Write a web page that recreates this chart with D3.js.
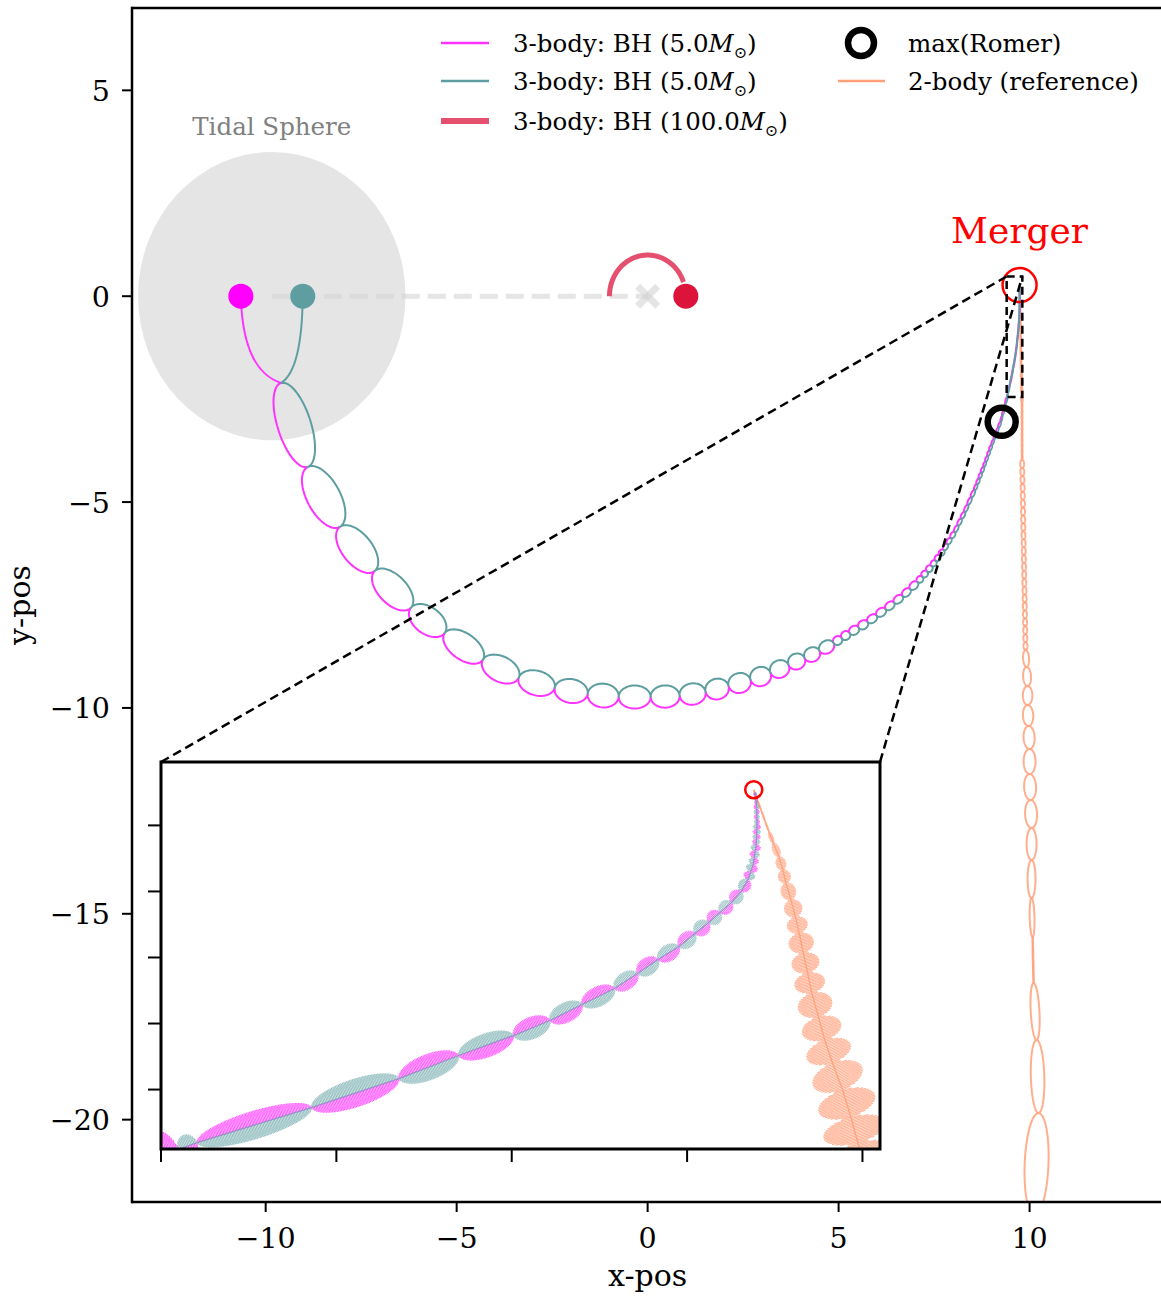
<!DOCTYPE html>
<html><head><meta charset="utf-8">
<script src="https://cdn.jsdelivr.net/npm/d3@7"></script>
<style>
body{margin:0;background:#fff}
svg{display:block}
text{font-family:"DejaVu Serif",serif}
</style>
</head><body>
<svg id="chart" width="1161" height="1296"></svg>
<script>
// ---------- axis ticks ----------
const xTicks = [-10, -5, 0, 5, 10];
const yTicks = [5, 0, -5, -10, -15, -20];
const insetXTicks = [9.4, 9.5, 9.6, 9.7, 9.8];
const insetYTicks = [0, -0.5, -1, -1.5, -2];
const zoomX = [9.40, 9.81];
const zoomY = [-2.45, 0.48];

// ---------- bodies and markers ----------
const bhA0 = [-10.65, 0];          // 5 Msun, magenta, start
const bhB0 = [-9.03, 0];           // 5 Msun, teal, start
const bhABend = [-10.6, -1.8];     // control points of the first infall
const bhBBend = [-9.05, -1.8];
const bhC0 = [1.0, 0];             // 100 Msun perturber
const bhCArcDeg = [180, 20];       // swept angle of the perturber, radius 1
const bhCArcR = 1.0;
const systemCOM = [0, 0];
const tidalCenter = [-9.84, 0];
const tidalRadius = 3.5;
const mergerPos = [9.738, 0.27];
const romerMaxPos = [9.27, -3.05];

// ---------- 3-body binary: guiding centre nodes, loops per segment, half-separation ----------
const binaryPath = [
  [-9.602,-2.108],[-8.901,-4.149],[-8.063,-5.606],[-7.147,-6.675],[-6.204,-7.574],
  [-5.314,-8.181],[-4.319,-8.837],[-3.377,-9.274],[-2.435,-9.517],[-1.571,-9.662],
  [-0.759,-9.735],[0.079,-9.735],[0.838,-9.711],[1.518,-9.614],[2.120,-9.468],
  [2.696,-9.322],[3.220,-9.152],[3.691,-8.958],[4.110,-8.788],[4.503,-8.618],
  [4.869,-8.424],
  [5.288,-8.181],[5.759,-7.914],[6.230,-7.598],[6.675,-7.282],[7.068,-6.942],
  [7.435,-6.553],[7.749,-6.165],[8.037,-5.728],[8.298,-5.242],[8.560,-4.708],
  [8.796,-4.149],[9.005,-3.614],[9.241,-3.056],
  [9.4097,-2.455],[9.4205,-2.402],[9.4858,-2.136],[9.5357,-1.917],[9.5697,-1.742],
  [9.6010,-1.591],[9.6218,-1.477],[9.6401,-1.356],[9.6586,-1.235],[9.6717,-1.121],
  [9.6834,-1.015],[9.6954,-0.917],[9.7045,-0.818],[9.7123,-0.735],[9.7188,-0.659],
  [9.7254,-0.583],[9.7308,-0.500],[9.7348,-0.409],[9.7377,-0.295],[9.7394,-0.144],
  [9.7399,0.008],[9.7396,0.159],[9.7387,0.250]
];
const binaryLoops = [
  1,1,1,1,1,1,1,1,1,1,1,1,1,1,1,1,1,1,1,1,
  2,2,2,2,2,3,3,3,3,3,4,4,4,
  4,
  1,1,1,1,1,1,1,1,1,1,1,1,1,1,1,1,1,2,3,4,4,3
];
const binarySep = [
  0.42,0.42,0.38,0.36,0.34,0.33,0.32,0.31,0.30,0.30,0.29,0.28,0.27,0.26,0.25,0.24,0.22,0.20,0.18,0.16,
  -0.11,-0.11,-0.10,-0.095,-0.09,-0.08,-0.07,-0.055,-0.045,-0.04,-0.035,-0.03,-0.025,
  -0.018,
  0.0068,-0.0080,0.0080,-0.0074,0.0068,-0.0063,0.0057,-0.0057,0.0051,-0.0051,0.0048,
  -0.0046,0.0046,-0.0043,0.0040,-0.0040,0.0037,-0.0034,0.0029,-0.0023,0.0017,-0.0011
];
const binaryAlternate = [
  0,0,0,0,0,0,0,0,0,0,0,0,0,0,0,0,0,0,0,0,
  0,0,0,0,0,0,0,0,0,0,0,0,0,
  0,
  0,0,0,0,0,0,0,0,0,0,0,0,0,0,0,0,0,1,1,1,1,1
];

// ---------- 2-body reference ----------
const refPath = [
  [9.738,0.27],
  [9.7467,-0.050],[9.7492,-0.133],[9.7524,-0.239],[9.7546,-0.337],[9.7563,-0.436],
  [9.7592,-0.564],[9.7618,-0.693],[9.7639,-0.815],[9.7663,-0.966],[9.7687,-1.117],
  [9.7711,-1.269],[9.7749,-1.450],[9.7785,-1.625],[9.7829,-1.799],[9.7887,-2.003],
  [9.7934,-2.208],[9.7974,-2.405],[9.8019,-2.609],
  [9.804,-3.978],[9.895,-8.593],
  [9.921,-9.006],[9.948,-9.468],[9.948,-9.929],[9.974,-10.439],[10.0,-10.998],
  [10.0,-11.605],[10.026,-12.237],[10.052,-12.917],[10.052,-13.694],[10.052,-14.617],
  [10.079,-15.564],[10.105,-16.682],[10.183,-18.066],[10.236,-19.839],[10.13,-22.32]
];
const refLoops = [
  4,
  1,1,1,1,1,1,1,1,1,1,1,1,1,1,1,1,1,
  10,24,
  1,1,1,1,1,1,1,1,1,1,1,1,1,1,1
];
const refSep = [
  0.0006,
  0.0014,0.0022,0.0030,0.0037,0.0044,0.0052,0.0060,0.0072,0.0080,0.0088,0.0100,0.0115,0.0132,0.0150,0.0168,0.0182,0.0195,
  0.012,0.05,
  0.075,0.10,0.12,0.13,0.14,0.15,0.15,0.15,0.125,0.10,0.06,0.008,0.11,0.17,0.30
];

// ---------- colours ----------
const cBH1 = "#ff33ff", cBH2 = "#5f9ea0", cBH3 = "#e5506f", cBH3dot = "#dc143c";
const cRef = "#ffa07a";

// ---------- layout ----------
const svg = d3.select("#chart");
const W = 1161, H = 1296;
const plot = {left: 132, top: 8, right: 1190, bottom: 1202};
const x = d3.scaleLinear().domain([-13.5, 14.2]).range([plot.left, plot.right]);
const y = d3.scaleLinear().domain([-22, 7]).range([plot.bottom, plot.top]);
const ins = {left: 161, top: 762, right: 880, bottom: 1149};
const ix = d3.scaleLinear().domain(zoomX).range([ins.left, ins.right]);
const iy = d3.scaleLinear().domain(zoomY).range([ins.bottom, ins.top]);
const kMain = (Math.abs(x(1) - x(0)) + Math.abs(y(1) - y(0))) / 2;
const kInset = Math.abs(ix(1) - ix(0));

const defs = svg.append("defs");
defs.append("clipPath").attr("id", "clipMain").append("rect")
  .attr("x", plot.left).attr("y", plot.top)
  .attr("width", plot.right - plot.left).attr("height", plot.bottom - plot.top);
defs.append("clipPath").attr("id", "clipInset").append("rect")
  .attr("x", ins.left).attr("y", ins.top)
  .attr("width", ins.right - ins.left).attr("height", ins.bottom - ins.top);

// Build the two tracks of a binary whose guiding centre follows `pts` (pixels).
// Each loop is an ellipse between consecutive nodes: one body runs one half,
// the companion the other. With hatch>0 the fast inner orbit is drawn as a
// dense zig-zag inside each half.
function binaryTracks(pts, loops, sepPx, alt, hatch) {
  const a = [], b = [];
  for (let i = 0; i < pts.length - 1; i++) {
    const P = pts[i], Q = pts[i + 1], c = loops[i];
    for (let j = 0; j < c; j++) {
      const A = [P[0] + (Q[0] - P[0]) * j / c, P[1] + (Q[1] - P[1]) * j / c];
      const B = [P[0] + (Q[0] - P[0]) * (j + 1) / c, P[1] + (Q[1] - P[1]) * (j + 1) / c];
      const dx = B[0] - A[0], dy = B[1] - A[1], L = Math.hypot(dx, dy) || 1e-9;
      const ux = dx / L, uy = dy / L, nx = -uy, ny = ux;
      const h = sepPx[i] * ((alt[i] && j % 2) ? -1 : 1);
      const zig = hatch ? Math.max(3, Math.round(L / hatch)) : 0;
      const N = zig ? zig * 6 : 28;
      for (let k = (a.length ? 1 : 0); k <= N; k++) {
        const t = k / N;
        let along, off;
        if (zig) {
          along = L * t;
          off = h * Math.sqrt(Math.max(0, 1 - (2 * t - 1) ** 2)) * Math.abs(Math.sin(Math.PI * zig * t));
        } else {
          const th = Math.PI * t;
          along = L * (1 - Math.cos(th)) / 2;
          off = h * Math.sin(th);
        }
        const cx = A[0] + ux * along, cy = A[1] + uy * along;
        a.push([cx + nx * off, cy + ny * off]);
        b.push([cx - nx * off, cy - ny * off]);
      }
    }
  }
  return [a, b];
}

const line = d3.line();

// ---------- main axes content ----------
const gMain = svg.append("g").attr("clip-path", "url(#clipMain)");

// tidal sphere
gMain.append("ellipse")
  .attr("cx", x(tidalCenter[0])).attr("cy", y(tidalCenter[1]))
  .attr("rx", Math.abs(x(tidalRadius) - x(0))).attr("ry", Math.abs(y(tidalRadius) - y(0)))
  .attr("fill", "#d3d3d3").attr("fill-opacity", 0.6);

// line joining binary centre to the system centre
gMain.append("line")
  .attr("x1", x(tidalCenter[0])).attr("y1", y(tidalCenter[1]))
  .attr("x2", x(systemCOM[0])).attr("y2", y(systemCOM[1]))
  .attr("stroke", "#d3d3d3").attr("stroke-opacity", 0.6)
  .attr("stroke-width", 5).attr("stroke-dasharray", "18,8");

// system centre cross
const crossR = 10;
[[-1, -1, 1, 1], [-1, 1, 1, -1]].forEach(s => {
  gMain.append("line")
    .attr("x1", x(systemCOM[0]) + s[0] * crossR).attr("y1", y(systemCOM[1]) + s[1] * crossR)
    .attr("x2", x(systemCOM[0]) + s[2] * crossR).attr("y2", y(systemCOM[1]) + s[3] * crossR)
    .attr("stroke", "#d3d3d3").attr("stroke-opacity", 0.6).attr("stroke-width", 7);
});

// 2-body reference in the main panel
{
  const pts = refPath.map(d => [x(d[0]), y(d[1])]);
  const [a, b] = binaryTracks(pts, refLoops, refSep.map(s => s * kMain), refLoops.map(() => 0), 0);
  [a, b].forEach(tr => gMain.append("path").attr("d", line(tr))
    .attr("fill", "none").attr("stroke", cRef).attr("stroke-width", 2)
    .attr("stroke-opacity", 0.85).attr("stroke-linejoin", "round"));
}

// 3-body binary in the main panel
{
  const pts = binaryPath.map(d => [x(d[0]), y(d[1])]);
  const [a, b] = binaryTracks(pts, binaryLoops, binarySep.map(s => s * kMain), binaryAlternate, 0);
  const infall = (p0, c, p1) => {
    const P = d3.path();
    P.moveTo(x(p0[0]), y(p0[1]));
    P.quadraticCurveTo(x(c[0]), y(c[1]), x(p1[0]), y(p1[1]));
    return P.toString();
  };
  gMain.append("path").attr("d", infall(bhA0, bhABend, binaryPath[0]))
    .attr("fill", "none").attr("stroke", cBH1).attr("stroke-width", 2);
  gMain.append("path").attr("d", infall(bhB0, bhBBend, binaryPath[0]))
    .attr("fill", "none").attr("stroke", cBH2).attr("stroke-width", 2);
  gMain.append("path").attr("d", line(a)).attr("fill", "none")
    .attr("stroke", cBH1).attr("stroke-width", 2).attr("stroke-linejoin", "round");
  gMain.append("path").attr("d", line(b)).attr("fill", "none")
    .attr("stroke", cBH2).attr("stroke-width", 2).attr("stroke-linejoin", "round");
}

// perturber arc and bodies
{
  const arcPts = d3.range(bhCArcDeg[0], bhCArcDeg[1] - 0.5, -2).map(a => {
    const r = a * Math.PI / 180;
    return [x(systemCOM[0] + bhCArcR * Math.cos(r)), y(systemCOM[1] + bhCArcR * Math.sin(r))];
  });
  gMain.append("path").attr("d", line(arcPts)).attr("fill", "none")
    .attr("stroke", cBH3).attr("stroke-width", 5);
}
gMain.append("circle").attr("cx", x(bhA0[0])).attr("cy", y(bhA0[1])).attr("r", 12.5).attr("fill", "#ff00ff");
gMain.append("circle").attr("cx", x(bhB0[0])).attr("cy", y(bhB0[1])).attr("r", 12.5).attr("fill", cBH2);
gMain.append("circle").attr("cx", x(bhC0[0])).attr("cy", y(bhC0[1])).attr("r", 12.5).attr("fill", cBH3dot);

// merger and maximum Romer delay markers
gMain.append("circle").attr("cx", x(mergerPos[0])).attr("cy", y(mergerPos[1])).attr("r", 17)
  .attr("fill", "none").attr("stroke", "red").attr("stroke-width", 2.5);
gMain.append("circle").attr("cx", x(romerMaxPos[0])).attr("cy", y(romerMaxPos[1])).attr("r", 14)
  .attr("fill", "none").attr("stroke", "#000").attr("stroke-width", 6.5);

// labels inside the axes
svg.append("text").attr("x", x(tidalCenter[0])).attr("y", y(tidalCenter[1] + tidalRadius + 0.57))
  .attr("text-anchor", "middle").attr("dominant-baseline", "middle")
  .attr("font-size", 24.5).attr("fill", "#808080").text("Tidal Sphere");
svg.append("text").attr("x", x(mergerPos[0])).attr("y", y(mergerPos[1] + 1.24))
  .attr("text-anchor", "middle").attr("dominant-baseline", "middle")
  .attr("font-size", 36).attr("fill", "red").text("Merger");

// zoom rectangle and connectors
svg.append("rect")
  .attr("x", x(zoomX[0])).attr("y", y(zoomY[1]))
  .attr("width", x(zoomX[1]) - x(zoomX[0])).attr("height", y(zoomY[0]) - y(zoomY[1]))
  .attr("fill", "none").attr("stroke", "#000").attr("stroke-width", 2.5).attr("stroke-dasharray", "8,5");
[[ins.left, x(zoomX[0])], [ins.right, x(zoomX[1])]].forEach(c => {
  svg.append("line").attr("x1", c[0]).attr("y1", ins.top).attr("x2", c[1]).attr("y2", y(zoomY[1]))
    .attr("stroke", "#000").attr("stroke-width", 2.5).attr("stroke-dasharray", "9,5");
});

// ---------- main spines, ticks and labels ----------
svg.append("line").attr("x1", plot.left).attr("x2", plot.left).attr("y1", plot.top - 1.25).attr("y2", plot.bottom + 1.25)
  .attr("stroke", "#000").attr("stroke-width", 2.5);
svg.append("line").attr("x1", plot.left).attr("x2", W + 5).attr("y1", plot.top).attr("y2", plot.top)
  .attr("stroke", "#000").attr("stroke-width", 2.5);
svg.append("line").attr("x1", plot.left).attr("x2", W + 5).attr("y1", plot.bottom).attr("y2", plot.bottom)
  .attr("stroke", "#000").attr("stroke-width", 2.5);

const fmt = v => (v < 0 ? "\u2212" : "") + Math.abs(v);
xTicks.forEach(v => {
  svg.append("line").attr("x1", x(v)).attr("x2", x(v)).attr("y1", plot.bottom).attr("y2", plot.bottom + 10)
    .attr("stroke", "#000").attr("stroke-width", 2);
  svg.append("text").attr("x", x(v)).attr("y", plot.bottom + 46).attr("text-anchor", "middle")
    .attr("font-size", 28.5).text(fmt(v));
});
yTicks.forEach(v => {
  svg.append("line").attr("x1", plot.left - 10).attr("x2", plot.left).attr("y1", y(v)).attr("y2", y(v))
    .attr("stroke", "#000").attr("stroke-width", 2);
  svg.append("text").attr("x", plot.left - 22).attr("y", y(v) + 10.5).attr("text-anchor", "end")
    .attr("font-size", 28.5).text(fmt(v));
});
svg.append("text").attr("x", x(0)).attr("y", 1286).attr("text-anchor", "middle")
  .attr("font-size", 30).text("x-pos");
svg.append("text").attr("transform", `translate(30,${(plot.top + plot.bottom) / 2}) rotate(-90)`)
  .attr("text-anchor", "middle").attr("font-size", 30).text("y-pos");

// ---------- inset ----------
svg.append("rect").attr("x", ins.left).attr("y", ins.top)
  .attr("width", ins.right - ins.left).attr("height", ins.bottom - ins.top).attr("fill", "#fff");
const gIns = svg.append("g").attr("clip-path", "url(#clipInset)");
{
  const pts = refPath.map(d => [ix(d[0]), iy(d[1])]);
  const [a, b] = binaryTracks(pts, refLoops, refSep.map(s => s * kInset), refLoops.map(() => 0), 1.5);
  [a, b].forEach(tr => gIns.append("path").attr("d", line(tr)).attr("fill", "none")
    .attr("stroke", cRef).attr("stroke-width", 0.8).attr("stroke-opacity", 0.75));
  gIns.append("path").attr("d", line(pts)).attr("fill", "none")
    .attr("stroke", "#ff9a70").attr("stroke-width", 1.4).attr("stroke-opacity", 0.8);
}
{
  const pts = binaryPath.map(d => [ix(d[0]), iy(d[1])]);
  const [a, b] = binaryTracks(pts, binaryLoops, binarySep.map(s => s * kInset), binaryAlternate, 1.5);
  gIns.append("path").attr("d", line(b)).attr("fill", "none")
    .attr("stroke", cBH2).attr("stroke-width", 0.8).attr("stroke-opacity", 0.6);
  gIns.append("path").attr("d", line(a)).attr("fill", "none")
    .attr("stroke", cBH1).attr("stroke-width", 0.8).attr("stroke-opacity", 0.75);
  gIns.append("path").attr("d", line(pts)).attr("fill", "none")
    .attr("stroke", "#9089c4").attr("stroke-width", 1.3).attr("stroke-opacity", 0.85);
}
gIns.append("circle").attr("cx", ix(mergerPos[0])).attr("cy", iy(mergerPos[1])).attr("r", 8.5)
  .attr("fill", "none").attr("stroke", "red").attr("stroke-width", 2.5);

svg.append("rect").attr("x", ins.left).attr("y", ins.top)
  .attr("width", ins.right - ins.left).attr("height", ins.bottom - ins.top)
  .attr("fill", "none").attr("stroke", "#000").attr("stroke-width", 3);
insetXTicks.forEach(v => svg.append("line").attr("x1", ix(v)).attr("x2", ix(v))
  .attr("y1", ins.bottom).attr("y2", ins.bottom + 13).attr("stroke", "#000").attr("stroke-width", 2));
insetYTicks.forEach(v => svg.append("line").attr("x1", ins.left - 13).attr("x2", ins.left)
  .attr("y1", iy(v)).attr("y2", iy(v)).attr("stroke", "#000").attr("stroke-width", 2));

// ---------- legend ----------
const legend = svg.append("g").attr("font-size", 24.5);
function massLabel(g, tx, ty, mass) {
  const t = g.append("text").attr("x", tx).attr("y", ty);
  t.append("tspan").text(`3-body: BH (${mass}`);
  t.append("tspan").attr("font-style", "italic").text("M");
  t.append("tspan").attr("font-size", 16).attr("dy", 6).text("\u2299");
  t.append("tspan").attr("dy", -6).text(")");
}
const legendRows = [
  {color: cBH1, w: 2.5, mass: "5.0", cy: 43},
  {color: cBH2, w: 2.5, mass: "5.0", cy: 81},
  {color: cBH3, w: 6, mass: "100.0", cy: 121}
];
legendRows.forEach(r => {
  legend.append("line").attr("x1", 441).attr("x2", 489).attr("y1", r.cy).attr("y2", r.cy)
    .attr("stroke", r.color).attr("stroke-width", r.w);
  massLabel(legend, 513, r.cy + 9, r.mass);
});
legend.append("circle").attr("cx", 861).attr("cy", 43).attr("r", 13)
  .attr("fill", "none").attr("stroke", "#000").attr("stroke-width", 6.5);
legend.append("text").attr("x", 908).attr("y", 52).text("max(Romer)");
legend.append("line").attr("x1", 838).attr("x2", 885).attr("y1", 81).attr("y2", 81)
  .attr("stroke", cRef).attr("stroke-width", 2.5);
legend.append("text").attr("x", 908).attr("y", 90).text("2-body (reference)");
</script>
</body></html>
